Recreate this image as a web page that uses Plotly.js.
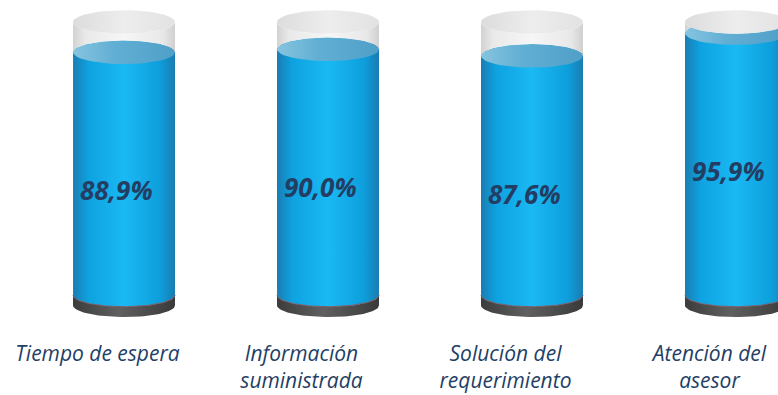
<!DOCTYPE html>
<html>
<head>
<meta charset="utf-8">
<script src="https://cdn.plot.ly/plotly-3.0.1.min.js"></script>
<style>html,body{margin:0;padding:0;background:#fff;}#chart{width:778px;height:395px;}</style>
</head>
<body>
<div id="chart"></div>
<script>
// ---- data ----
const categories = ['Tiempo de espera', 'Información suministrada', 'Solución del requerimiento', 'Atención del asesor'];
const tickLabels = ['Tiempo de espera', 'Información<br>suministrada', 'Solución del<br>requerimiento', 'Atención del<br>asesor'];
const values = [88.9, 90.0, 87.6, 95.9];
const maxValue = 100;

// ---- style constants ----
const DX = 0.13;     // cylinder offset from tick (perspective shift)
const R = 0.25;      // cylinder radius in x units
const RY = 4.3;      // ellipse semi-height in y units
const BASE = 3.8;    // dark base thickness
const N = 48;

function arc(cx, yc, t0, t1) {
  const xs = [], ys = [];
  for (let k = 0; k <= N; k++) {
    const t = t0 + (t1 - t0) * k / N;
    xs.push(cx + R * Math.cos(t));
    ys.push(yc + RY * Math.sin(t));
  }
  return [xs, ys];
}
function poly(xs, ys, scale) {
  return {x: xs, y: ys, type: 'scatter', mode: 'lines', fill: 'toself',
    line: {width: 0}, hoverinfo: 'skip', showlegend: false,
    fillgradient: {type: 'horizontal', colorscale: scale}};
}
const PI = Math.PI;
const traces = [];
values.forEach((v, i) => {
  const cx = i + DX;
  // dark base band
  let a = arc(cx, 0, PI, 2 * PI), b = arc(cx, -BASE, 2 * PI, PI);
  traces.push(poly(a[0].concat(b[0]), a[1].concat(b[1]),
    [[0, '#3c3c3c'], [0.45, '#606060'], [1, '#3a3a3a']]));
  // blue body
  a = arc(cx, 0, PI, 2 * PI); b = arc(cx, v, 0, PI);
  traces.push(poly(a[0].concat(b[0]), a[1].concat(b[1]),
    [[0, '#1a7db3'], [0.15, '#0ea2e0'], [0.5, '#1ab9f4'], [0.85, '#0d9fdc'], [1, '#1a7cb2']]));
  // reddish seam at base
  a = arc(cx, 0, PI, 2 * PI);
  traces.push({x: a[0], y: a[1], type: 'scatter', mode: 'lines', line: {width: 1, color: '#7d5a62'},
    hoverinfo: 'skip', showlegend: false});
  // liquid top
  a = arc(cx, v, 0, 2 * PI);
  traces.push(poly(a[0], a[1], [[0, '#86c4df'], [0.4, '#62afd4'], [1, '#4f9fc8']]));
  // glass above liquid
  a = arc(cx, maxValue, PI, 2 * PI); b = arc(cx, v, 0, PI);
  traces.push(poly(a[0].concat(b[0]), a[1].concat(b[1]),
    [[0, '#d2d2d2'], [0.12, '#e9e9e9'], [0.5, '#f6f6f6'], [0.88, '#e8e8e8'], [1, '#d0d0d0']]));
  // cap
  a = arc(cx, maxValue, 0, 2 * PI);
  traces.push(poly(a[0], a[1], [[0, '#dcdcdc'], [0.5, '#ededed'], [1, '#e2e2e2']]));
});

const annotations = values.map((v, i) => ({
  x: i + DX - 0.035, y: v - 50.5, xref: 'x', yref: 'y',
  text: v.toFixed(1).replace('.', ',') + '%', showarrow: false,
  font: {family: 'Open Sans, Noto Sans, sans-serif', size: 26, color: '#233d63', weight: 'bold', style: 'italic'}
}));

const layout = {
  width: 778, height: 395,
  margin: {l: 0, r: 0, t: 0, b: 70},
  paper_bgcolor: '#ffffff', plot_bgcolor: '#ffffff',
  xaxis: {range: [-0.478, 3.336], tickvals: [0, 1, 2, 3], ticktext: tickLabels,
    showgrid: false, zeroline: false, showline: false, ticks: '',
    tickfont: {family: 'Open Sans, Noto Sans, sans-serif', size: 21, color: '#1f3f66', style: 'italic'},
    ticklabelstandoff: 14, fixedrange: true},
  yaxis: {range: [-11, 108.06], showgrid: false, zeroline: false, showline: false,
    showticklabels: false, ticks: '', fixedrange: true},
  annotations: annotations,
  showlegend: false
};
Plotly.newPlot('chart', traces, layout, {staticPlot: true, displayModeBar: false});
</script>
</body>
</html>
